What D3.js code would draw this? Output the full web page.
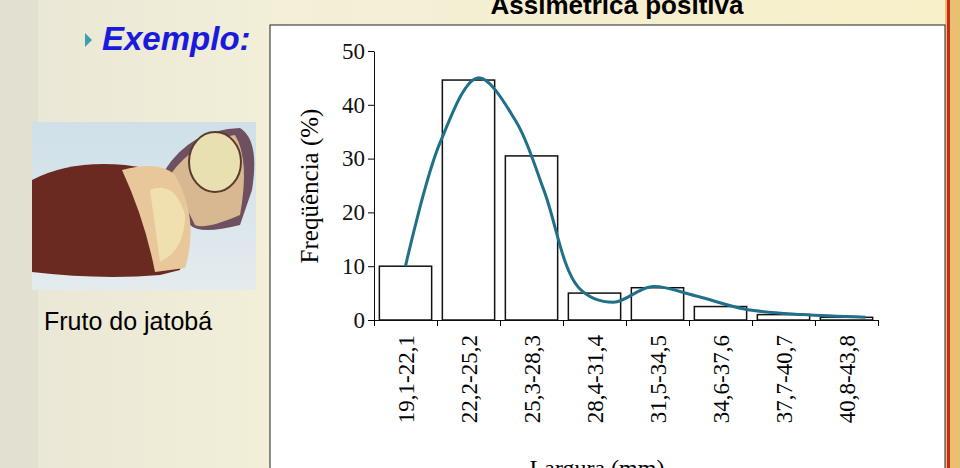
<!DOCTYPE html>
<html><head><meta charset="utf-8">
<script src="https://cdn.jsdelivr.net/npm/d3@7"></script>
<style>body{margin:0;overflow:hidden}</style></head>
<body><svg id="c" width="960" height="468"></svg>
<script>
const categories=["19,1-22,1","22,2-25,2","25,3-28,3","28,4-31,4","31,5-34,5","34,6-37,6","37,7-40,7","40,8-43,8"];
const values=[10,44.6,30.5,5,6,2.5,1,0.5];
const yTicks=[0,10,20,30,40,50];
// smooth curve: position in class units (0 = centre of first class), frequency %
const curveX=[0,0.55,1.15,1.75,2.2,2.75,3.3,3.9,4.6,5.4,6.3,7.3];
const curveY=[10,33,45,37,24,6,3.3,6.2,4.5,2,1,0.5];

const svg=d3.select("#c");
const defs=svg.append("defs");
const g1=defs.append("linearGradient").attr("id","bg").attr("x1",0).attr("x2",1);
g1.append("stop").attr("offset",0).attr("stop-color","#e9e6d6");
g1.append("stop").attr("offset",0.3).attr("stop-color","#f3efd8");
g1.append("stop").attr("offset",1).attr("stop-color","#f8f0c8");
svg.append("rect").attr("width",960).attr("height",468).attr("fill","url(#bg)");
svg.append("rect").attr("x",0).attr("width",38).attr("height",468).attr("fill","#e2e0d0");
svg.append("rect").attr("x",945).attr("width",15).attr("height",468).attr("fill","#e8c070");
svg.append("rect").attr("x",947).attr("width",3).attr("height",468).attr("fill","#c8281e");

svg.append("text").attr("x",617).attr("y",14).attr("text-anchor","middle")
 .attr("font-family","Liberation Sans, Arial").attr("font-weight","bold").attr("font-size",26).text("Assimétrica positiva");
svg.append("path").attr("d","M85,33 L92,40 L85,47 Z").attr("fill","#3aa0b0");
svg.append("text").attr("x",102).attr("y",50).attr("fill","#1a1adc").attr("font-style","italic").attr("font-weight","bold")
 .attr("font-family","Liberation Sans, Arial").attr("font-size",33).text("Exemplo:");

// photo approximation
const ph=svg.append("g");
const pg=defs.append("linearGradient").attr("id","ph").attr("x1",0).attr("y1",0).attr("x2",0).attr("y2",1);
pg.append("stop").attr("offset",0).attr("stop-color","#cfe0e8");pg.append("stop").attr("offset",1).attr("stop-color","#e4ebee");
ph.append("rect").attr("x",32).attr("y",122).attr("width",224).attr("height",168).attr("fill","url(#ph)");
ph.append("path").attr("d","M165,170 Q190,130 240,128 Q260,140 252,190 L240,225 Q200,235 190,225 Z").attr("fill","#6e5060");
ph.append("path").attr("d","M170,175 Q195,140 235,135 Q250,160 240,215 Q205,230 195,225 Z").attr("fill","#d8b890");
ph.append("ellipse").attr("cx",215).attr("cy",162).attr("rx",26).attr("ry",30).attr("fill","#e8e0b0").attr("stroke","#5a3a30").attr("stroke-width",2);
ph.append("path").attr("d","M32,180 Q70,160 125,165 L160,170 Q195,220 180,270 L160,275 Q100,280 32,272 Z").attr("fill","#6a2a22");
ph.append("path").attr("d","M122,170 Q160,160 175,175 Q200,220 185,268 L155,272 Q145,220 122,170 Z").attr("fill","#e8c79a");
ph.append("path").attr("d","M150,190 Q175,180 185,215 Q185,250 160,262 Z").attr("fill","#f0e0b0");
svg.append("text").attr("x",44).attr("y",330).attr("font-family","Liberation Sans, Arial").attr("font-size",25).text("Fruto do jatobá");

// chart box
svg.append("rect").attr("x",270).attr("y",25).attr("width",675).attr("height",460).attr("fill","#fff").attr("stroke","#222").attr("stroke-width",1);

const x=d3.scaleBand().domain(categories).range([374,878]).paddingInner(0.17).paddingOuter(0.085);
const y=d3.scaleLinear().domain([0,50]).range([320,51]);
const serif="Liberation Serif, Times New Roman, serif";
const ya=svg.append("g").attr("transform","translate(374,0)").call(d3.axisLeft(y).tickValues(yTicks).tickSize(6).tickSizeOuter(0));
ya.selectAll("text").attr("font-family",serif).attr("font-size",23).attr("fill","#111");
ya.select(".domain").attr("stroke","#111");
const step=x.step();
const xe=d3.scaleLinear().domain([0,8]).range([374,878]);
const xa=svg.append("g").attr("transform","translate(0,320)").call(d3.axisBottom(xe).tickValues(d3.range(9)).tickSize(6).tickFormat(""));
xa.select(".domain").attr("stroke","#111");
svg.selectAll("rect.bar").data(values).join("rect").attr("class","bar")
 .attr("x",(d,i)=>x(categories[i])).attr("width",x.bandwidth()).attr("y",d=>y(d)).attr("height",d=>320-y(d))
 .attr("fill","#fff").attr("stroke","#111").attr("stroke-width",1.5);
svg.selectAll("text.xl").data(categories).join("text").attr("class","xl")
 .attr("transform",(d)=>`translate(${x(d)+x.bandwidth()/2+8},335) rotate(-90)`)
 .attr("text-anchor","end").attr("font-family",serif).attr("font-size",23).text(d=>d);
const cx=v=>x(categories[0])+x.bandwidth()/2+v*step;
svg.append("path").datum(curveX.map((v,i)=>[cx(v),y(curveY[i])]))
 .attr("d",d3.line().curve(d3.curveCatmullRom.alpha(0.5))).attr("fill","none").attr("stroke","#1f7088").attr("stroke-width",3);
svg.append("text").attr("transform","translate(318,186) rotate(-90)").attr("text-anchor","middle")
 .attr("font-family",serif).attr("font-size",25).text("Freqüência (%)");
svg.append("text").attr("x",597).attr("y",476).attr("text-anchor","middle").attr("font-family",serif).attr("font-size",24).text("Largura (mm)");
</script></body></html>
